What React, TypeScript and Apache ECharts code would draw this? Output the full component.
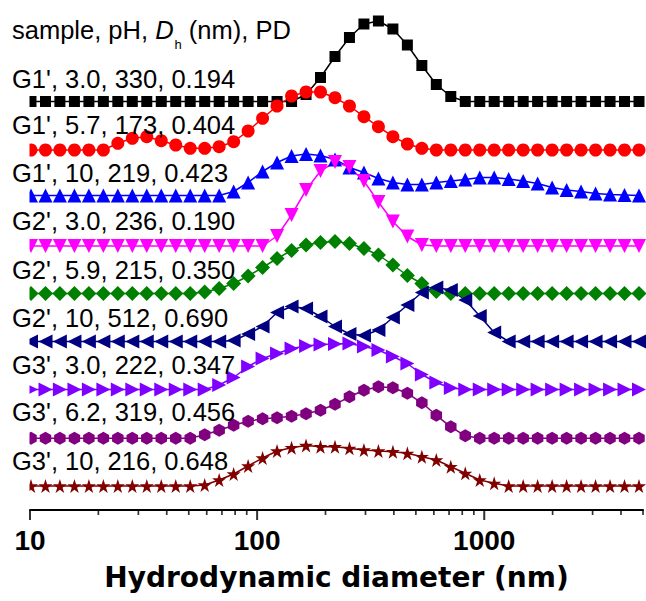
import React, { useEffect, useRef } from "react";
import * as echarts from "echarts";

// Hydrodynamic diameter bins (nm)
const sizes = [10.1, 11.7, 13.54, 15.69, 18.17, 21.04, 24.36, 28.21, 32.67, 37.84, 43.82, 50.75, 58.77, 68.06, 78.82, 91.28, 105.7, 122.4, 141.8, 164.2, 190.1, 220.2, 255.0, 295.3, 342.0, 396.1, 458.7, 531.2, 615.1, 712.4, 825.0, 955.4, 1106, 1281, 1484, 1718, 1990, 2305, 2669, 3091, 3580, 4145, 4801];

// Intensity (a.u.) per sample
const g1_30 = [0,0,0,0,0,0,0,0,0,0,0,0,0,0,0,0,0,0,0,7,24,45,64,77.5,80.5,72.5,56.5,36,17,5,0,0,0,0,0,0,0,0,0,0,0,0,0];
const g1_57 = [0,0,0,0,0,0,6.7,11.7,13.3,9.3,5,1.7,1.7,3.3,8.3,19,31.7,44,54,58,58,52.3,44,33.3,23.3,13.3,6,1.7,0,0,0,0,0,0,0,0,0,0,0,0,0,0,0];
const g1_10 = [0,0,0,0,0,0,0,0,0,0,0,0,0,0,4,13,24,33,39.5,41.5,40,36,28,23,17,13,11,11,13,14.5,16,18,18,16.5,14.5,12,8,5.5,4,2,1,0.5,0];
const g2_30 = [0,0,0,0,0,0,0,0,0,0,0,0,0,0,0,0,0,10,31,56,75,84,79,65,44,24.5,9.5,1,0,0,0,0,0,0,0,0,0,0,0,0,0,0,0];
const g2_59 = [0,0,0,0,0,0,0,0,0,0,0,0,1.5,5,10,17.5,26,35,43,48.5,51,52,50,45,38.5,28.5,18,10,2,0,0,0,0,0,0,0,0,0,0,0,0,0,0];
const g2_10 = [0,0,0,0,0,0,0,0,0,0,0,0,0,0,1,7.5,15,29,35,33,25,15,7.5,6,11.5,24,36.5,49,54,51.5,41.5,25.5,9,0,0,0,0,0,0,0,0,0,0];
const g3_30 = [0,0,0,0,0,0,0,0,0,0,0,0,0,4.5,12,23,31,36,41,43.5,45,45.5,46,43,39.5,33,26,15,7,1.5,0,0,0,0,0,0,0,0,0,0,0,0,0];
const g3_62 = [0,0,0,0,0,0,0,0,0,0,0,0,3.5,8,13,17,19.5,20.5,22,24.5,28,34,41.5,48,51.5,50.5,45,35.5,23,11.5,2.5,0,0,0,0,0,0,0,0,0,0,0,0];
const g3_10 = [0,0,0,0,0,0,0,0,0,0,0,0,1,6,12,20,28,35,38.3,40.5,39.3,39.3,37.7,36,35,34.3,32.7,29.3,26,19.3,12.7,6,2.7,0,0,0,0,0,0,0,0,0,0];

const intensities = [g1_30, g1_57, g1_10, g2_30, g2_59, g2_10, g3_30, g3_62, g3_10];
// vertical stacking offset of each curve (a.u.)
const offsets = [408.5, 360, 314.5, 264, 216.5, 168.5, 120.5, 71.7, 24];

const headerLabel = "sample, pH, D_h (nm), PD";
const sampleLabels = [
  "G1', 3.0, 330, 0.194",
  "G1', 5.7, 173, 0.404",
  "G1', 10, 219, 0.423",
  "G2', 3.0, 236, 0.190",
  "G2', 5.9, 215, 0.350",
  "G2', 10, 512, 0.690",
  "G3', 3.0, 222, 0.347",
  "G3', 6.2, 319, 0.456",
  "G3', 10, 216, 0.648",
];

const majorTicks = [10, 100, 1000];
const minorTicks = [20, 30, 40, 50, 60, 70, 80, 90, 200, 300, 400, 500, 600, 700, 800, 900, 2000, 3000, 4000, 5000];

// ---- styling / layout ----
const FONT = "'Liberation Sans', Arial, Helvetica, sans-serif";
const TITLE_FONT = "'DejaVu Sans', 'Liberation Sans', Arial, sans-serif";
const starPath = "path://M50,0 L61.2,34.5 L97.6,34.5 L68.2,55.9 L79.4,90.5 L50,69.1 L20.6,90.5 L31.8,55.9 L2.4,34.5 L38.8,34.5 Z";
const hexPath = "path://M50,0 L93.3,25 L93.3,75 L50,100 L6.7,75 L6.7,25 Z";
const seriesStyles = [
  { color: "#000000", symbol: "rect", size: 11, rotate: 0 },
  { color: "#FF0000", symbol: "circle", size: 13, rotate: 0 },
  { color: "#0000FF", symbol: "triangle", size: 14, rotate: 0 },
  { color: "#FF00FF", symbol: "triangle", size: 14, rotate: 180 },
  { color: "#008000", symbol: "diamond", size: 15, rotate: 0 },
  { color: "#000080", symbol: "triangle", size: 14, rotate: 90 },
  { color: "#8000FF", symbol: "triangle", size: 14, rotate: -90 },
  { color: "#800080", symbol: hexPath, size: [11.5, 13], rotate: 0 },
  { color: "#800000", symbol: starPath, size: 14, rotate: 0 },
];
const labelBaselines = [87.3, 133.5, 181.7, 230, 278.5, 326.7, 373.5, 420.5, 470];
const headerBaseline = 40;
const BASE_OFF = 22.7;

export default function App() {
  const ref = useRef<HTMLDivElement>(null);
  useEffect(() => {
    if (!ref.current) return;
    const chart = echarts.init(ref.current, undefined, { renderer: "svg" });

    const lineSeries = intensities.map((arr, i) => {
      const st = seriesStyles[i];
      return {
        type: "line",
        name: sampleLabels[i],
        data: sizes.map((s, k) => [s, offsets[i] + arr[k]]),
        symbol: st.symbol,
        symbolSize: st.size,
        symbolRotate: st.rotate,
        showSymbol: true,
        showAllSymbol: true,
        lineStyle: { color: st.color, width: 1.5 },
        itemStyle: { color: st.color, borderWidth: 0 },
        emphasis: { disabled: true },
        clip: true,
        z: 2,
      };
    });

    const tickSeries = [
      {
        type: "scatter",
        data: majorTicks.map((v) => [v, 0]),
        symbol: "rect",
        symbolSize: [2, 10],
        symbolOffset: [0, 5],
        itemStyle: { color: "#000" },
        silent: true,
        clip: false,
        z: 3,
      },
      {
        type: "scatter",
        data: minorTicks.map((v) => [v, 0]),
        symbol: "rect",
        symbolSize: [1.7, 5],
        symbolOffset: [0, 2.5],
        itemStyle: { color: "#000" },
        silent: true,
        clip: false,
        z: 3,
      },
    ];

    const parts = headerLabel.split(/D_h/);
    const graphics: any[] = [
      {
        type: "rect",
        shape: { x: 0, y: 60, width: 29.5, height: 440 },
        style: { fill: "#ffffff" },
        z: 5,
        silent: true,
      },
      {
        type: "text",
        x: 12,
        y: headerBaseline - BASE_OFF,
        z: 10,
        style: {
          text: `{n|${parts[0]}}{i|D}{s|h}{n|${parts[1]}}`,
          verticalAlign: "top",
          align: "left",
          rich: {
            n: { fontSize: 25.5, fontFamily: FONT, fill: "#000", lineHeight: 28, verticalAlign: "top" },
            i: { fontSize: 25.5, fontFamily: FONT, fontStyle: "italic", fill: "#000", lineHeight: 28, verticalAlign: "top" },
            s: { fontSize: 13, fontFamily: FONT, fill: "#000", lineHeight: 13, padding: [21, 0, 0, 1], verticalAlign: "top" },
          },
        },
      },
      ...sampleLabels.map((t, i) => ({
        type: "text",
        x: 12,
        y: labelBaselines[i] - BASE_OFF,
        z: 10,
        style: {
          text: t,
          fontSize: 25.5,
          fontFamily: FONT,
          fill: "#000",
          lineHeight: 28,
          verticalAlign: "top",
          align: "left",
        },
      })),
    ];

    chart.setOption({
      animation: false,
      backgroundColor: "#ffffff",
      grid: { left: 30, right: 3, top: 10, bottom: 91, containLabel: false },
      xAxis: {
        type: "log",
        logBase: 10,
        min: 10,
        max: 5000,
        axisLine: { show: true, lineStyle: { color: "#000", width: 2 } },
        axisTick: { show: false },
        minorTick: { show: false },
        splitLine: { show: false },
        axisLabel: {
          fontSize: 28,
          fontWeight: "bold",
          fontFamily: FONT,
          color: "#000",
          margin: 16,
          showMaxLabel: false,
          formatter: (v: number) => (majorTicks.some((m) => Math.abs(m - v) < 1e-6 * m) ? String(Math.round(v)) : ""),
        },
        name: "Hydrodynamic diameter (nm)",
        nameLocation: "middle",
        nameGap: 67,
        nameTextStyle: { fontSize: 28, fontWeight: "bold", fontFamily: TITLE_FONT, color: "#000", lineHeight: 28, verticalAlign: "middle" },
      },
      yAxis: { type: "value", min: 0, max: 500, show: false },
      series: [...lineSeries, ...tickSeries],
      graphic: graphics,
    });
    return () => chart.dispose();
  }, []);
  return <div ref={ref} style={{ position: "fixed", left: 0, top: 0, width: 646, height: 601, background: "#fff" }} />;
}
